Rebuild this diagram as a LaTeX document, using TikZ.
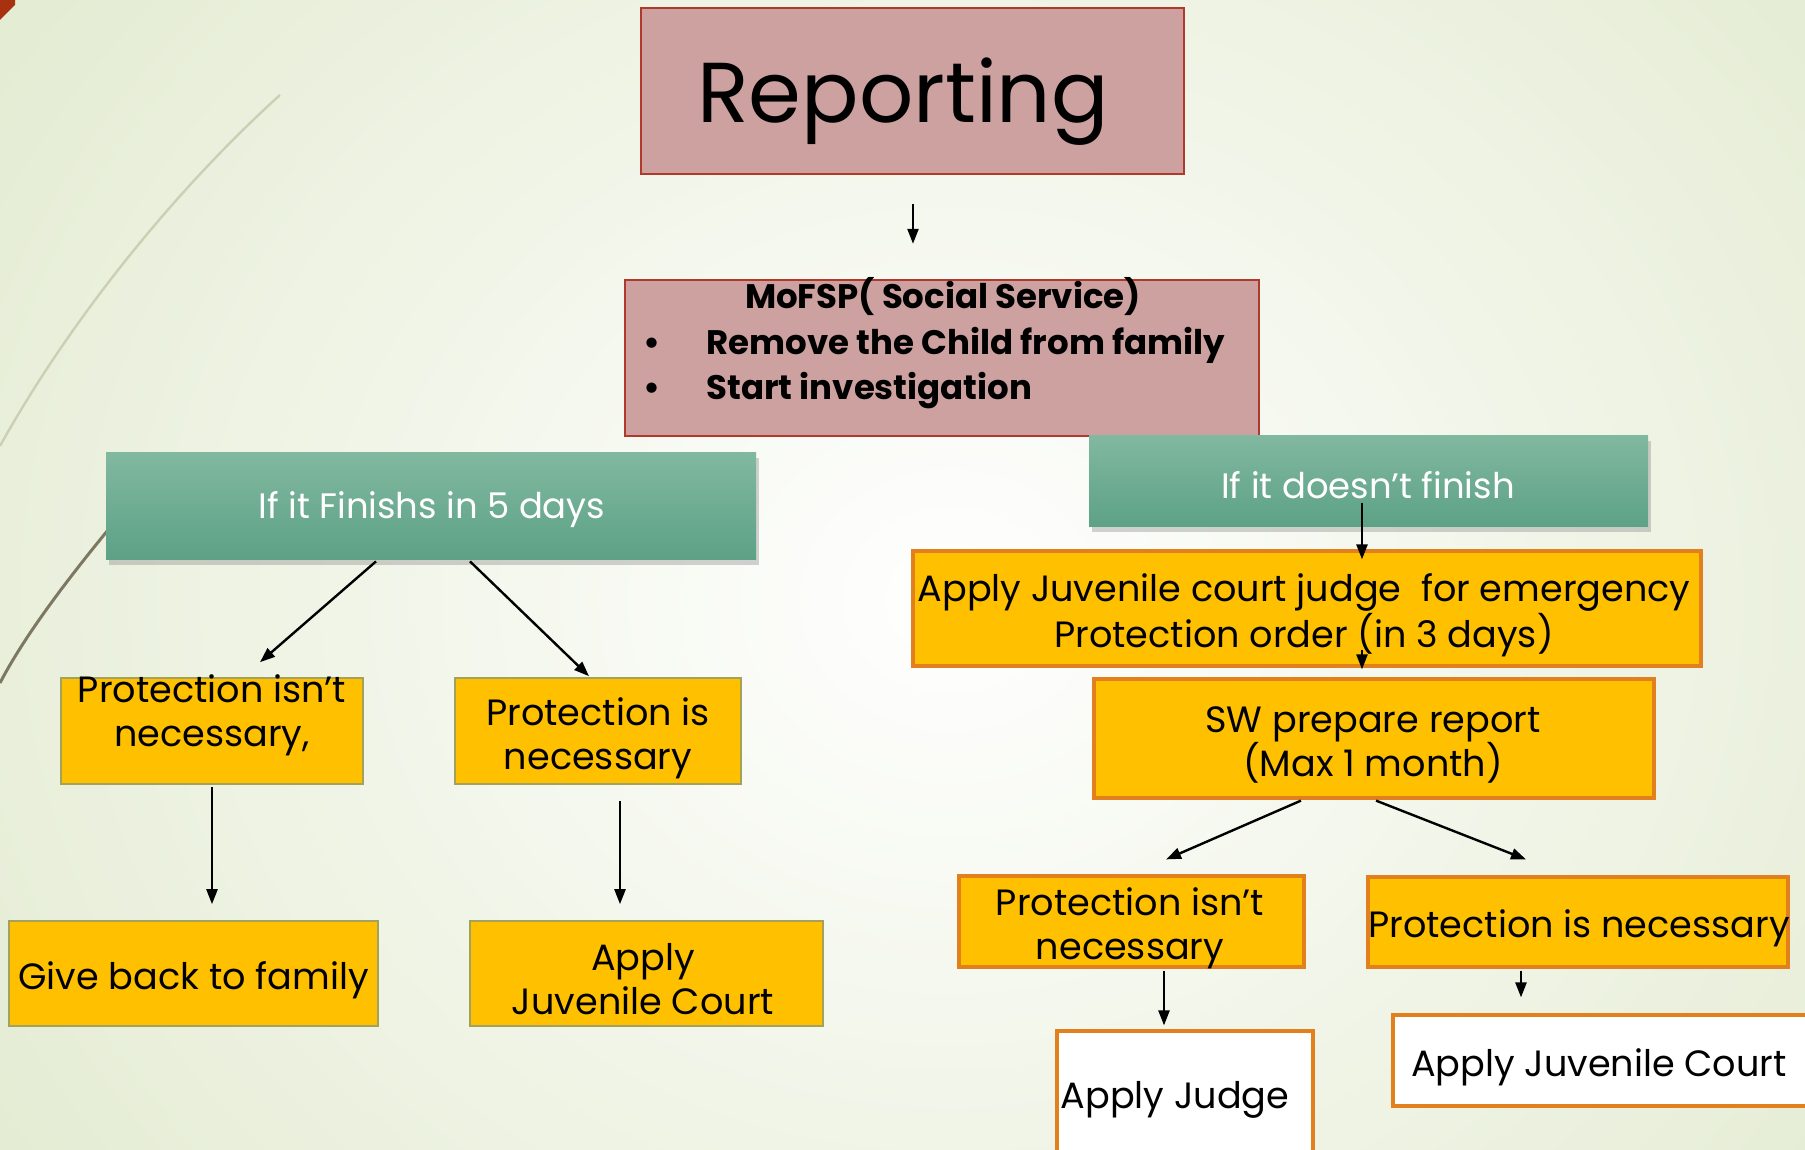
\documentclass[tikz,border=0pt]{standalone}
\usepackage{fontspec}
\setmainfont{Poppins}
\usetikzlibrary{shadows,arrows.meta,calc}

\definecolor{bgedge}{HTML}{E3EBD1}
\definecolor{pinkfill}{HTML}{CCA1A0}
\definecolor{pinkline}{HTML}{B0392B}
\definecolor{gtop}{HTML}{81B8A0}
\definecolor{gbot}{HTML}{5DA286}
\definecolor{amber}{HTML}{FFC000}
\definecolor{oline}{HTML}{E3801E}
\definecolor{olive}{HTML}{A3A25C}
\definecolor{wispA}{HTML}{CBD0B5}
\definecolor{wispB}{HTML}{7C7862}
\definecolor{corner}{HTML}{A8320F}

\tikzset{
  wh/.style 2 args={minimum width=#1*0.5pt, minimum height=#2*0.5pt},
  pinkbox/.style={draw=pinkline, line width=1.2pt, fill=pinkfill, rectangle, inner sep=0pt},
  greenbox/.style={rectangle, inner sep=0pt, top color=gtop, bottom color=gbot,
    drop shadow={shadow xshift=1.5pt, shadow yshift=-3pt, opacity=0.35}},
  leftbox/.style={draw=olive, line width=0.8pt, fill=amber, rectangle, inner sep=0pt},
  rightbox/.style={draw=oline, line width=1.6pt, fill=amber, rectangle, inner sep=0pt},
  whitebox/.style={draw=oline, line width=1.6pt, fill=white, rectangle, inner sep=0pt},
  boxtext/.style={align=center, inner sep=0pt, yshift=-2.5pt, font=\fontsize{18.3}{22}\selectfont},
  greentext/.style={align=center, inner sep=0pt, yshift=-2pt, text=white, font=\fontsize{17.7}{22}\selectfont},
  boldtext/.style={inner sep=0pt, yshift=-3.5pt, font=\bfseries\fontsize{17}{20}\selectfont},
  arr/.style={line width=1.2pt, -{Triangle[length=7.5pt,width=5.5pt]}},
}

\begin{document}
\begin{tikzpicture}[x=0.5pt,y=-0.5pt]
\useasboundingbox (0,0) rectangle (1805,1150);
\clip (0,0) rectangle (1805,1150);

% slide background and theme decorations
\shade[inner color=white, outer color=bgedge] (-250,-450) rectangle (2150,1650);
\fill[corner] (0,0) -- (15,0) -- (15,5) -- (0,20) -- cycle;
\draw[wispA, line width=1.2pt] (280,95) .. controls (175,190) and (70,320) .. (0,446);
\draw[wispB, line width=1.5pt] (150,480) .. controls (90,550) and (30,625) .. (0,683);

% top of the flow
\node[pinkbox, wh={543}{166}] (rep) at (912.5,91) {};
\node[inner sep=0pt, anchor=base, font=\fontsize{42.5}{50}\selectfont] at (903,123) {Reporting};

\node[pinkbox, wh={634}{156}] (mof) at (942,358) {};
\node[boldtext, anchor=mid] at (943,296) {MoFSP( Social Service)};
\node[boldtext, anchor=mid] at (652,342) {\textbullet};
\node[boldtext, anchor=mid] at (652,387) {\textbullet};
\node[boldtext, anchor=mid west] at (706,342) {Remove the Child from family};
\node[boldtext, anchor=mid west] at (706,387) {Start investigation};

% branch: finished within five days
\node[greenbox, wh={650}{107}] (gl) at (431,505.5) {};
\node[greentext] at (432,506) {If it Finishs in 5 days};

\node[leftbox, wh={302}{106}] (pinL) at (212,731) {};
\node[boxtext] at (212,710) {Protection isn't\\necessary,};
\node[leftbox, wh={286}{106}] (pisL) at (598,731) {};
\node[boxtext] at (598,733) {Protection is\\necessary};
\node[leftbox, wh={369}{105}] (give) at (193.5,973.5) {};
\node[boxtext] at (193.5,975) {Give back to family};
\node[leftbox, wh={353}{105}] (jcL) at (646.5,973.5) {};
\node[boxtext] at (643,974.5) {Apply\\Juvenile Court};

% branch: not finished
\node[greenbox, wh={559}{91}] (gr) at (1368.5,480.5) {};
\node[greentext] at (1368,481) {If it doesn't finish};

\node[rightbox, wh={788}{115}] (emer) at (1307,608.5) {};
\node[boxtext] at (1304,610) {Apply Juvenile court judge\ \ for emergency\\Protection order (in 3 days)};
\node[rightbox, wh={560}{119}] (sw) at (1374,738.5) {};
\node[boxtext] at (1373,739.5) {SW prepare report\\(Max 1 month)};

\node[rightbox, wh={345}{91}] (pinR) at (1131.5,921.5) {};
\node[boxtext] at (1130,923) {Protection isn't\\necessary};
\node[rightbox, wh={420}{90}] (pisR) at (1578,922) {};
\node[boxtext] at (1579,923) {Protection is necessary};

\node[whitebox, wh={256}{130}] (judge) at (1185,1096) {};
\node[boxtext] at (1175,1095) {Apply Judge};
\node[whitebox, wh={415}{91}] (jcR) at (1600.5,1060.5) {};
\node[boxtext] at (1599,1062) {Apply Juvenile Court};

% connectors
\draw[arr] ($(rep.south)+(0.5,29)$) -- ($(mof.north)+(-29,-35)$);
\draw[arr] ($(gl.south)+(-55,2)$) -- ($(pinL.north)+(48,-15)$);
\draw[arr] ($(gl.south)+(39,2)$) -- ($(pisL.north)+(-9,-1)$);
\draw[arr] ($(pinL.south)+(0,2)$) -- ($(give.north)+(18.5,-16)$);
\draw[arr] ($(pisL.south)+(22,16)$) -- ($(jcL.north)+(-26.5,-16)$);
\draw[arr] ($(gr.south)+(-6.5,-23)$) -- ($(emer.north)+(55,10)$);
\draw[arr] ($(emer.south)+(55,-18)$) -- ($(sw.north)+(-12,-8)$);
\draw[arr] ($(sw.south)+(-73,1)$) -- ($(pinR.north)+(34.5,-15)$);
\draw[arr] ($(sw.south)+(2,1)$) -- ($(pisR.north)+(-52,-16)$);
\draw[arr] ($(pinR.south)+(32.5,2)$) -- ($(judge.north)+(-21,-4)$);
\draw[arr] ($(pisR.south)+(-57,2)$) -- ($(jcR.north)+(-79.5,-16)$);
\end{tikzpicture}
\end{document}
